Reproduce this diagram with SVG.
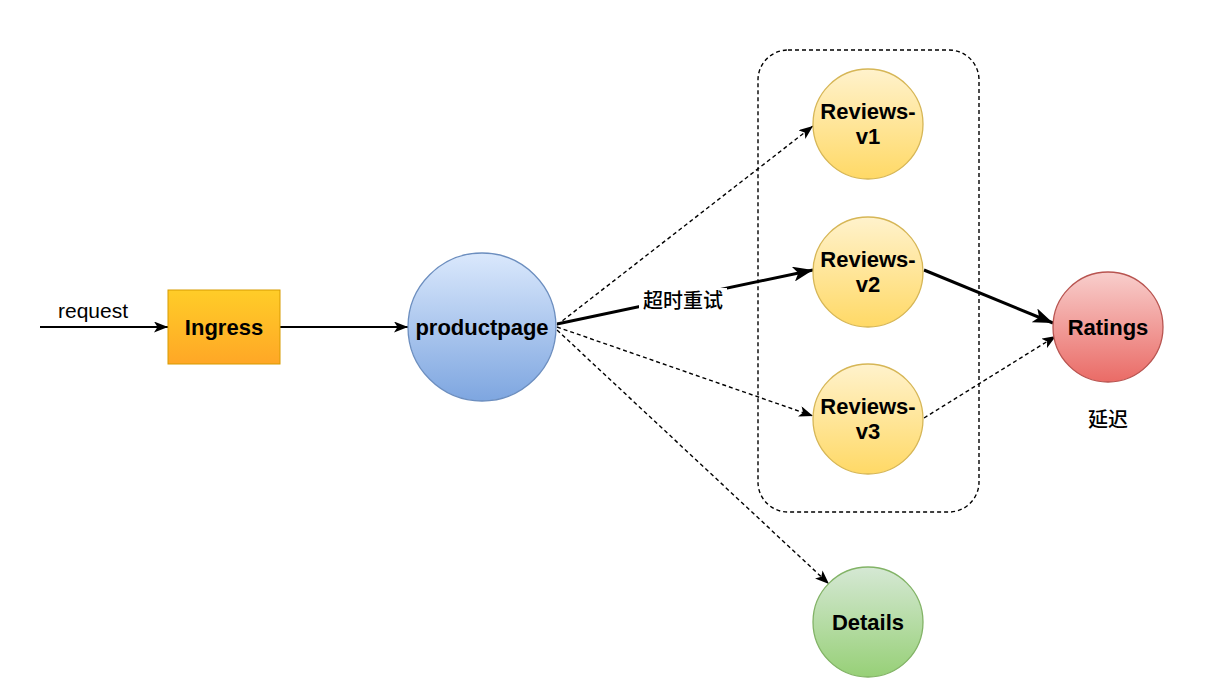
<svg xmlns="http://www.w3.org/2000/svg" width="1211" height="686" viewBox="0 0 1211 686">
<style>
.lbl{font-family:"Liberation Sans",Arial,"Noto Sans CJK SC",sans-serif;font-weight:bold;font-size:22px;fill:#000;text-anchor:middle}
.txt{font-family:"Liberation Sans",Arial,"Noto Sans CJK SC",sans-serif;font-size:21px;fill:#000;text-anchor:middle}
.cjk{font-family:"Noto Sans CJK SC","Liberation Sans",sans-serif;font-size:20px;font-weight:500;fill:#000;text-anchor:middle}
.thin{stroke:#000;stroke-width:1.4;fill:none}
.solid{stroke:#000;stroke-width:2;fill:none}
.thick{stroke:#000;stroke-width:3;fill:none}
.dash{stroke-dasharray:4 3}
</style>
<defs>
<linearGradient id="gOrange" x1="0" y1="0" x2="0" y2="1"><stop offset="0" stop-color="#ffcd28"/><stop offset="1" stop-color="#ffa726"/></linearGradient>
<linearGradient id="gBlue" x1="0" y1="0" x2="0" y2="1"><stop offset="0" stop-color="#dae8fc"/><stop offset="1" stop-color="#7ea6e0"/></linearGradient>
<linearGradient id="gYellow" x1="0" y1="0" x2="0" y2="1"><stop offset="0" stop-color="#fff2cc"/><stop offset="1" stop-color="#ffd966"/></linearGradient>
<linearGradient id="gRed" x1="0" y1="0" x2="0" y2="1"><stop offset="0" stop-color="#f8cecc"/><stop offset="1" stop-color="#ea6b66"/></linearGradient>
<linearGradient id="gGreen" x1="0" y1="0" x2="0" y2="1"><stop offset="0" stop-color="#d5e8d4"/><stop offset="1" stop-color="#97d077"/></linearGradient>
<marker id="arr" markerUnits="userSpaceOnUse" viewBox="0 0 14 11" markerWidth="14" markerHeight="11" refX="14" refY="5.5" orient="auto"><path d="M0,0 L14,5.5 L0,11 L3.5,5.5 Z" fill="#000"/></marker>
<marker id="arrB" markerUnits="userSpaceOnUse" viewBox="0 0 20 15" markerWidth="20" markerHeight="15" refX="20" refY="7.5" orient="auto"><path d="M0,0 L20,7.5 L0,15 L5,7.5 Z" fill="#000"/></marker>
</defs>
<rect width="1211" height="686" fill="#fff"/>
<g id="group-box">
<rect x="758" y="50" width="221" height="462" rx="30" ry="30" fill="none" stroke="#000" stroke-width="1.4" class="dash"/>
</g>
<g id="connectors">
<line class="solid" x1="40" y1="327" x2="168" y2="327" marker-end="url(#arr)"/>
<text class="txt" x="93" y="318">request</text>
<line class="solid" x1="280" y1="327" x2="408" y2="327" marker-end="url(#arr)"/>
<line class="thin dash" x1="557" y1="325" x2="813" y2="126" marker-end="url(#arr)"/>
<line class="thick" x1="557" y1="324" x2="813" y2="270" marker-end="url(#arrB)"/>
<rect x="639" y="288" width="88" height="24" fill="#fff"/>
<text class="cjk" x="683" y="308">超时重试</text>
<line class="thin dash" x1="557" y1="327" x2="813" y2="416" marker-end="url(#arr)"/>
<line class="thin dash" x1="557" y1="330" x2="829" y2="584" marker-end="url(#arr)"/>
<line class="thick" x1="924" y1="270" x2="1053" y2="323" marker-end="url(#arrB)"/>
<line class="thin dash" x1="924" y1="418" x2="1056" y2="336" marker-end="url(#arr)"/>
</g>
<g id="node-ingress">
<rect x="168" y="290" width="112" height="74" fill="url(#gOrange)" stroke="#d79b00" stroke-width="1"/>
<text class="lbl" x="224" y="335">Ingress</text>
</g>
<g id="node-productpage">
<circle cx="482" cy="327" r="74" fill="url(#gBlue)" stroke="#6c8ebf" stroke-width="1.3"/>
<text class="lbl" x="482" y="335">productpage</text>
</g>
<g id="node-reviews-v1">
<circle cx="868" cy="124" r="55" fill="url(#gYellow)" stroke="#d6b656" stroke-width="1.3"/>
<text class="lbl" x="868" y="119">Reviews-</text>
<text class="lbl" x="868" y="144">v1</text>
</g>
<g id="node-reviews-v2">
<circle cx="868" cy="272" r="55" fill="url(#gYellow)" stroke="#d6b656" stroke-width="1.3"/>
<text class="lbl" x="868" y="267">Reviews-</text>
<text class="lbl" x="868" y="292">v2</text>
</g>
<g id="node-reviews-v3">
<circle cx="868" cy="419" r="55" fill="url(#gYellow)" stroke="#d6b656" stroke-width="1.3"/>
<text class="lbl" x="868" y="414">Reviews-</text>
<text class="lbl" x="868" y="439">v3</text>
</g>
<g id="node-details">
<circle cx="868" cy="622" r="55" fill="url(#gGreen)" stroke="#82b366" stroke-width="1.3"/>
<text class="lbl" x="868" y="630">Details</text>
</g>
<g id="node-ratings">
<circle cx="1108" cy="327" r="55" fill="url(#gRed)" stroke="#b85450" stroke-width="1.3"/>
<text class="lbl" x="1108" y="335">Ratings</text>
<text class="cjk" x="1108" y="427">延迟</text>
</g>
</svg>
